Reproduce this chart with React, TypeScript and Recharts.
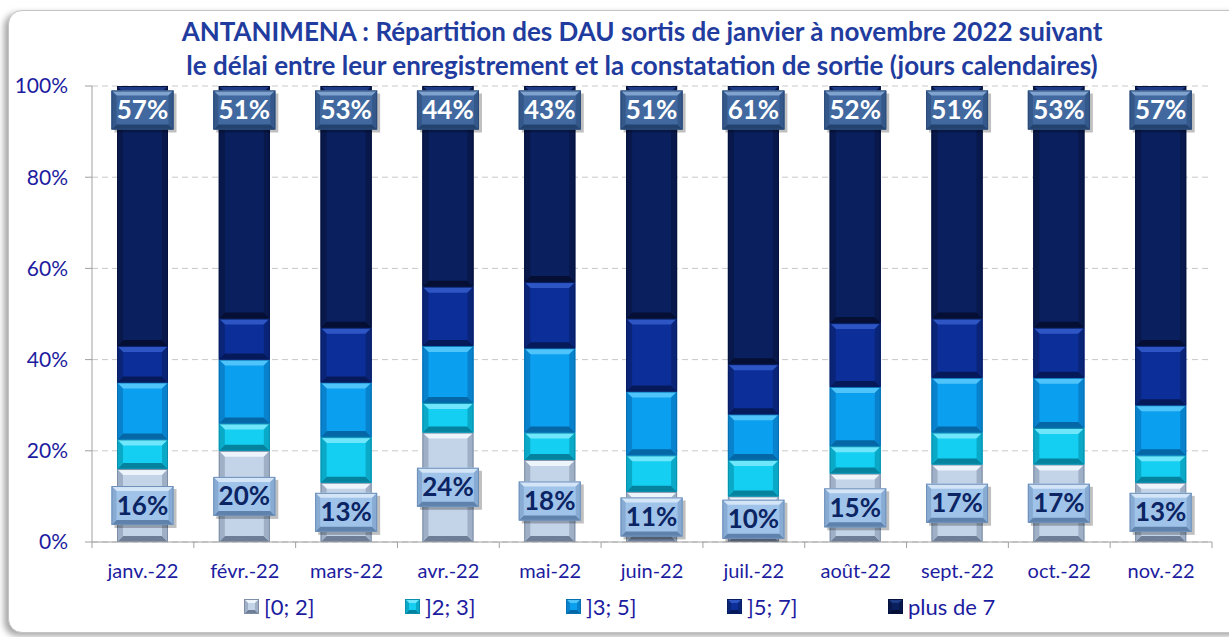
import React from 'react';
import { BarChart, Bar, XAxis, YAxis, CartesianGrid, LabelList } from 'recharts';

const categories = ['janv.-22', 'févr.-22', 'mars-22', 'avr.-22', 'mai-22', 'juin-22', 'juil.-22', 'août-22', 'sept.-22', 'oct.-22', 'nov.-22'];
const s0to2 = [16, 20, 13, 24, 18, 11, 10, 15, 17, 17, 13];
const s2to3 = [6.5, 6, 10, 6.5, 6, 8, 8, 6, 7, 8, 6];
const s3to5 = [12.5, 14, 12, 12.5, 18.5, 14, 10, 13, 12, 11, 11];
const s5to7 = [8, 9, 12, 13, 14.5, 16, 11, 14, 13, 11, 13];
const sOver7 = [57, 51, 53, 44, 43, 51, 61, 52, 51, 53, 57];
const seriesNames = ['[0; 2]', ']2; 3]', ']3; 5]', ']5; 7]', 'plus de 7'];
const yTicks = [0, 20, 40, 60, 80, 100];

const data = categories.map((c, i) => ({
  cat: c,
  a: s0to2[i],
  b: s2to3[i],
  c: s3to5[i],
  d: s5to7[i],
  e: sOver7[i],
}));

const W = 1229;
const H = 637;
const X_AXIS_H = 95;
const M = { top: 86, right: 17, left: 0, bottom: 0 };
const PLOT_W = W - 92 - M.right;
const BAND = PLOT_W / categories.length;

const FONT = "Lato, 'Open Sans', sans-serif";
const AXIS_COLOR = '#1c1ca0';
const TITLE_COLOR = '#1f3c9e';

type Pal = { base: string; light: string; dark: string; side: string; edge: string };
const palettes: Pal[] = [
  { base: '#c3d3e8', light: '#eef4fb', dark: '#6d7e96', side: '#9fb0c6', edge: '#7d8ea6' },
  { base: '#14cff2', light: '#6fe6fb', dark: '#04829e', side: '#0aa9c8', edge: '#0890ad' },
  { base: '#0b9ff0', light: '#4fc4fb', dark: '#0567a6', side: '#0882cc', edge: '#0670b0' },
  { base: '#0c2e98', light: '#2d56c4', dark: '#061a5a', side: '#0a2578', edge: '#071d63' },
  { base: '#0a1f5e', light: '#1e3b86', dark: '#040f33', side: '#08184a', edge: '#06123d' },
];
const keys = ['a', 'b', 'c', 'd', 'e'];

function Bevel({ x, y, w, h, p, b0 }: { x: number; y: number; w: number; h: number; p: Pal; b0: number }) {
  const b = Math.max(0, Math.min(b0, h / 3, w / 3));
  return (
    <g>
      <rect x={x} y={y} width={w} height={h} fill={p.base} />
      <polygon points={`${x},${y} ${x + w},${y} ${x + w - b},${y + b} ${x + b},${y + b}`} fill={p.light} />
      <polygon points={`${x},${y + h} ${x + w},${y + h} ${x + w - b},${y + h - b} ${x + b},${y + h - b}`} fill={p.dark} />
      <polygon points={`${x},${y} ${x + b},${y + b} ${x + b},${y + h - b} ${x},${y + h}`} fill={p.side} />
      <polygon points={`${x + w},${y} ${x + w - b},${y + b} ${x + w - b},${y + h - b} ${x + w},${y + h}`} fill={p.side} />
      <rect x={x + 0.5} y={y + 0.5} width={Math.max(0, w - 1)} height={Math.max(0, h - 1)} fill="none" stroke={p.edge} strokeWidth={1} />
    </g>
  );
}

const makeShape = (p: Pal) => (props: any) => {
  const { x, y, width, height } = props;
  if (!height || height <= 0) return <g />;
  return <Bevel x={x} y={y} w={width} h={height} p={p} b0={6} />;
};

const topBox: Pal = { base: '#41699f', light: '#7fa2cf', dark: '#23426e', side: '#35588a', edge: '#2a4a78' };
const botBox: Pal = { base: '#9fc3e9', light: '#d3e5f7', dark: '#5f82ad', side: '#88abd3', edge: '#6e90b9' };

const BOX_W = 62;
const BOX_H = 39;

const topLabel = (props: any) => {
  const { x, y, width, value } = props;
  const cx = x + width / 2;
  const cy = y + 24;
  return (
    <g>
      <rect x={cx - BOX_W / 2 + 3} y={cy - BOX_H / 2 + 3} width={BOX_W} height={BOX_H} fill="rgba(0,0,0,0.25)" />
      <Bevel x={cx - BOX_W / 2} y={cy - BOX_H / 2} w={BOX_W} h={BOX_H} p={topBox} b0={5} />
      <text x={cx} y={cy + 9} textAnchor="middle" fill="#ffffff" fontFamily={FONT} fontWeight={700} fontSize={26}>
        {`${Math.round(value)}%`}
      </text>
    </g>
  );
};

const bottomLabel = (props: any) => {
  const { x, y, width, height, value } = props;
  const cx = x + width / 2;
  const cy = y + height / 2;
  return (
    <g>
      <rect x={cx - BOX_W / 2 + 3} y={cy - BOX_H / 2 + 3} width={BOX_W} height={BOX_H} fill="rgba(0,0,0,0.25)" />
      <Bevel x={cx - BOX_W / 2} y={cy - BOX_H / 2} w={BOX_W} h={BOX_H} p={botBox} b0={5} />
      <text x={cx} y={cy + 9} textAnchor="middle" fill="#0b2463" fontFamily={FONT} fontWeight={700} fontSize={26}>
        {`${Math.round(value)}%`}
      </text>
    </g>
  );
};

const XTick = (props: any) => {
  const { x, y, payload, index } = props;
  const left = x - BAND / 2;
  const right = x + BAND / 2;
  return (
    <g>
      <line x1={left} y1={y} x2={left} y2={y + 6} stroke="#a0a0a0" strokeWidth={1} />
      {index === categories.length - 1 && <line x1={right} y1={y} x2={right} y2={y + 6} stroke="#a0a0a0" strokeWidth={1} />}
      <text x={x} y={y + 36} textAnchor="middle" fill={AXIS_COLOR} fontFamily={FONT} fontSize={20}>
        {payload.value}
      </text>
    </g>
  );
};

function LegendIcon({ p }: { p: Pal }) {
  return (
    <svg width={15} height={15} style={{ marginRight: 5 }}>
      <Bevel x={0} y={0} w={15} h={15} p={p} b0={4} />
    </svg>
  );
}

export default function App() {
  return (
    <div style={{ position: 'absolute', left: 0, top: 0, width: W, height: H, overflow: 'hidden', background: '#ffffff' }}>
      <div
        style={{
          position: 'absolute',
          left: 8,
          top: 10,
          width: 1260,
          height: 621,
          border: '1.5px solid #c4c4c4',
          borderRadius: 14,
          boxShadow: '-4px 3px 6px rgba(0,0,0,0.35)',
          background: '#ffffff',
        }}
      />
      <div
        style={{
          position: 'absolute',
          left: 42,
          top: 14,
          width: 1200,
          textAlign: 'center',
          color: TITLE_COLOR,
          fontFamily: FONT,
          fontWeight: 700,
          fontSize: 26,
          lineHeight: '34px',
        }}
      >
        <div>ANTANIMENA : Répartition des DAU sortis de janvier à novembre 2022 suivant</div>
        <div>le délai entre leur enregistrement et la constatation de sortie (jours calendaires)</div>
      </div>
      <div style={{ position: 'absolute', left: 0, top: 0 }}>
        <BarChart width={W} height={H} data={data} margin={M}>
          <CartesianGrid vertical={false} stroke="#c8c8c8" strokeDasharray="6 4" />
          <XAxis
            dataKey="cat"
            tick={<XTick />}
            tickLine={false}
            tickSize={0}
            tickMargin={0}
            axisLine={{ stroke: '#a0a0a0' }}
            height={X_AXIS_H}
            interval={0}
          />
          <YAxis
            domain={[0, 100]}
            ticks={yTicks}
            tickFormatter={(v: number) => `${v}%`}
            width={92}
            tickSize={7}
            tickMargin={17}
            axisLine={{ stroke: '#a0a0a0' }}
            tickLine={{ stroke: '#a0a0a0' }}
            tick={{ fill: AXIS_COLOR, fontFamily: FONT, fontSize: 21 }}
            allowDataOverflow
          />
          <YAxis yAxisId="r" orientation="right" width={0} tick={false} tickLine={false} axisLine={{ stroke: '#b0b0b0' }} />
          {keys.map((k, i) => (
            <Bar key={k} dataKey={k} name={seriesNames[i]} stackId="s" barSize={51} isAnimationActive={false} shape={makeShape(palettes[i])}>
              {i === 0 && <LabelList dataKey={k} content={bottomLabel} />}
              {i === 4 && <LabelList dataKey={k} content={topLabel} />}
            </Bar>
          ))}
        </BarChart>
      </div>
      <div style={{ position: 'absolute', left: 244, top: 593, display: 'flex', fontFamily: FONT, fontSize: 22, color: AXIS_COLOR }}>
        {seriesNames.map((n, i) => (
          <div key={n} style={{ width: 161, display: 'flex', alignItems: 'center' }}>
            <LegendIcon p={palettes[i]} />
            <span>{n}</span>
          </div>
        ))}
      </div>
    </div>
  );
}
